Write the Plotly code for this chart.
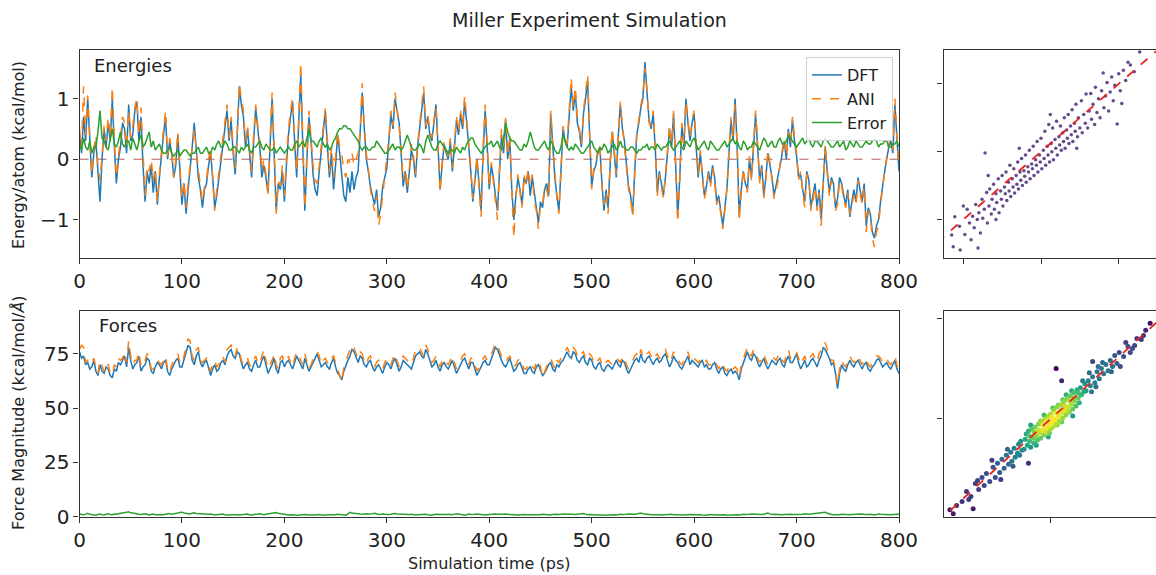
import numpy as np
import plotly.graph_objects as go

# Sampling interval of the trajectory (ps)
DT_PS = 2

# Per-atom energies along the trajectory (kcal/mol), one row per 40 ps
energy_dft = [
    0.4, 0.1, 0.7, 0.3, 1.0, 0.4, -0.3, 0.1, 0.3, -0.2, -0.7, 0.0, 0.5, 0.2, 0.6, 0.3, 1.0, 0.2, -0.4, 0.0,
    0.2, 0.6, 0.5, 0.1, 0.9, 0.3, 0.4, 0.8, 0.95, 0.3, 0.7, -0.1, -0.7, -0.2, -0.4, -0.1, -0.55, -0.2, -0.75, -0.3,
    0.1, 0.4, 0.7, 0.0, 0.3, 0.1, -0.3, -0.1, 0.4, -0.2, -0.75, -0.4, -0.9, -0.5, -0.2, 0.2, 0.6, 0.1, -0.3, -0.5,
    -0.8, -0.5, -0.4, -0.1, 0.1, -0.3, -0.8, -0.6, -0.3, 0.0, 0.3, 0.5, 0.8, 0.3, 0.65, 0.1, -0.25, 0.4, 1.2, 0.9,
    0.7, 0.2, 0.5, 0.1, -0.3, 0.3, 0.85, 0.5, 0.2, -0.3, -0.1, -0.3, -0.55, 0.2, 1.0, 0.1, -0.85, -0.4, -0.5, -0.2,
    -0.7, -0.1, 0.4, 0.7, 0.95, 0.3, -0.3, 0.6, 1.4, 0.2, -0.85, 0.0, 0.7, 0.3, -0.25, -0.5, -0.6, -0.2, 0.1, 0.5,
    0.8, 0.2, -0.3, 0.1, -0.5, -0.1, 0.4, 0.1, -0.3, -0.6, -0.7, -0.3, -0.55, -0.2, -0.5, -0.3, -0.2, 0.4, 1.1, 0.5,
    0.0, -0.2, -0.45, -0.6, -0.75, -0.5, -0.95, -0.8, -0.45, -0.3, -0.15, 0.3, 0.75, 0.5, 1.0, 0.8, 0.6, 0.1, -0.45, -0.2,
    -0.55, -0.2, 0.15, 0.0, -0.3, 0.2, 0.55, 0.8, 1.1, 0.5, 0.7, 0.4, 0.3, 0.6, 0.9, 0.2, -0.5, -0.1, 0.25, 0.1,
    0.0, 0.3, -0.2, 0.2, 0.65, 0.4, 0.75, 0.5, 0.95, 0.6, 0.25, -0.2, -0.7, -0.3, 0.0, -0.4, -0.85, 0.1, 0.8, 0.2,
    -0.5, -0.1, -0.3, -0.6, -0.85, -0.2, 0.4, 0.1, 0.65, 0.0, 0.35, -0.5, -1.0, -0.6, -0.3, -0.5, -0.75, -0.3, -0.4, -0.2,
    -0.6, -0.3, -0.6, -0.8, -1.05, -0.7, -0.8, -0.5, -0.4, -0.6, 0.75, 0.2, -0.3, -0.6, -0.85, -0.2, 0.5, 0.3, 0.2, 0.7,
    1.2, 0.8, 1.1, 0.6, 0.45, 0.2, 0.75, 1.0, 1.3, 0.4, -0.45, -0.2, -0.1, 0.1, 0.2, -0.4, -0.85, -0.5, -0.8, -0.1,
    0.45, 0.1, -0.3, 0.4, 0.9, 0.5, 0.3, -0.1, -0.45, -0.6, -0.9, -0.2, 0.4, 0.6, 0.85, 1.0, 1.6, 1.1, 0.65, 0.5,
    0.75, 0.2, -0.55, -0.2, -0.4, -0.6, -0.3, 0.1, 0.5, 0.2, 0.75, -0.1, -0.95, -0.3, 0.55, 0.2, 1.0, 0.6, 0.3, 0.6,
    0.75, 0.2, -0.3, 0.1, -0.2, -0.6, -0.45, -0.2, -0.4, -0.1, -0.3, -0.7, -0.6, -0.9, -1.1, -0.8, -0.5, 0.1, 0.65, 0.3,
    1.0, 0.2, -0.95, -0.5, -0.2, -0.4, -0.5, 0.0, -0.3, 0.2, 0.75, 0.2, -0.35, -0.1, -0.6, -0.3, 0.1, -0.1, -0.3, -0.6,
    -0.45, -0.3, -0.1, 0.1, 0.3, 0.0, 0.5, 0.2, 0.65, 0.3, 0.05, -0.3, -0.25, -0.5, -0.7, -0.2, -0.35, -0.8, -0.6, -0.4,
    -0.8, -0.5, -1.0, -0.4, 0.2, -0.2, -0.55, -0.3, -0.4, -0.8, -0.65, -0.3, -0.4, -0.6, -0.75, -0.5, -0.95, -0.7, -0.5, -0.7,
    -0.3, -0.5, -0.7, -0.4, -1.1, -0.8, -0.9, -1.2, -1.3, -1.1, -1.0, -0.7, -0.4, -0.2, 0.0, 0.2, 0.3, 0.1, 0.9, 0.3, -0.2,
]
energy_ani = [
    0.5, 0.2, 1.2, 0.4, 1.05, 0.5, -0.25, 0.15, 0.4, -0.1, -0.35, 0.05, 0.55, 0.3, 0.7, 0.35, 1.2, 0.3, -0.3, 0.05,
    0.35, 0.7, 0.6, 0.2, 0.8, 0.35, 0.55, 0.85, 1.0, 0.4, 0.85, 0.0, -0.6, -0.1, -0.2, 0.0, -0.35, -0.15, -0.7, -0.25,
    0.2, 0.5, 0.8, 0.05, 0.35, 0.15, -0.3, 0.0, 0.45, -0.1, -0.65, -0.35, -0.8, -0.4, -0.1, 0.3, 0.5, 0.15, -0.2, -0.45,
    -0.7, -0.45, -0.35, 0.0, 0.2, -0.25, -0.85, -0.5, -0.2, 0.1, 0.4, 0.6, 0.9, 0.35, 0.7, 0.2, -0.15, 0.45, 1.25, 1.0,
    0.8, 0.3, 0.55, 0.15, -0.2, 0.4, 0.9, 0.55, 0.3, -0.2, 0.0, -0.25, -0.6, 0.3, 1.1, 0.2, -0.9, -0.35, -0.45, -0.1,
    -0.6, 0.0, 0.5, 0.8, 1.0, 0.35, -0.2, 0.7, 1.6, 0.3, -0.8, 0.1, 0.8, 0.35, -0.1, -0.35, -0.4, -0.1, 0.2, 0.55,
    0.85, 0.3, -0.2, 0.2, -0.3, 0.05, 0.45, 0.2, 0.1, -0.2, -0.3, 0.0, -0.05, 0.1, -0.1, 0.0, 0.1, 0.5, 1.25, 0.55,
    0.1, -0.15, -0.5, -0.7, -0.85, -0.6, -1.1, -0.9, -0.6, -0.35, -0.05, 0.35, 0.8, 0.55, 1.1, 0.85, 0.55, 0.15, -0.35, -0.15,
    -0.5, -0.15, 0.25, 0.05, -0.25, 0.25, 0.6, 0.85, 1.2, 0.55, 0.75, 0.45, 0.35, 0.65, 0.85, 0.25, -0.55, -0.05, 0.3, 0.15,
    0.05, 0.35, -0.15, 0.25, 0.7, 0.45, 0.8, 0.55, 1.05, 0.65, 0.3, -0.15, -0.65, -0.25, 0.05, -0.45, -0.95, 0.15, 0.9, 0.25,
    -0.45, -0.05, -0.35, -0.7, -1.0, -0.15, 0.5, 0.15, 0.7, 0.05, 0.4, -0.55, -1.3, -0.65, -0.25, -0.55, -0.8, -0.25, -0.45, -0.15,
    -0.45, -0.25, -0.7, -0.85, -1.15, -0.75, -0.75, -0.45, -0.5, -0.65, 0.8, 0.25, -0.25, -0.65, -0.9, -0.15, 0.55, 0.35, 0.25, 0.8,
    1.35, 0.85, 1.2, 0.65, 0.5, 0.25, 0.8, 1.1, 1.4, 0.45, -0.5, -0.15, -0.05, 0.15, 0.25, -0.45, -0.75, -0.55, -0.9, -0.05,
    0.5, 0.15, -0.25, 0.45, 0.95, 0.55, 0.25, -0.15, -0.5, -0.65, -0.95, -0.15, 0.45, 0.65, 0.9, 1.05, 1.5, 1.15, 0.6, 0.55,
    0.8, 0.25, -0.6, -0.25, -0.45, -0.65, -0.25, 0.15, 0.55, 0.25, 0.8, -0.15, -1.05, -0.35, 0.6, 0.25, 0.95, 0.65, 0.35, 0.65,
    0.8, 0.25, -0.25, 0.15, -0.3, -0.65, -0.5, -0.25, -0.45, -0.15, -0.35, -0.75, -0.65, -0.95, -1.15, -0.85, -0.45, 0.15, 0.7, 0.35,
    0.9, 0.25, -1.0, -0.55, -0.15, -0.45, -0.55, 0.05, -0.35, 0.25, 0.8, 0.25, -0.4, -0.15, -0.65, -0.35, 0.15, -0.05, -0.35, -0.65,
    -0.5, -0.35, -0.05, 0.15, 0.35, 0.05, 0.45, 0.25, 0.7, 0.35, 0.1, -0.35, -0.2, -0.55, -0.8, -0.25, -0.3, -0.85, -0.7, -0.45,
    -0.85, -0.55, -1.1, -0.45, 0.25, -0.25, -0.6, -0.35, -0.45, -0.85, -0.75, -0.35, -0.45, -0.65, -0.8, -0.55, -0.9, -0.75, -0.6, -0.75,
    -0.35, -0.55, -0.75, -0.45, -1.2, -0.85, -0.95, -1.3, -1.45, -1.2, -1.1, -0.75, -0.45, -0.25, 0.05, 0.25, 0.35, 0.15, 1.0, 0.35, -0.15,
]
energy_err = [
    0.25, 0.15, 0.35, 0.2, 0.15, 0.3, 0.1, 0.2, 0.2, 0.45, 0.8, 0.35, 0.3, 0.2, 0.15, 0.3, 0.5, 0.25, 0.2, 0.3,
    0.45, 0.25, 0.2, 0.3, 0.3, 0.15, 0.35, 0.25, 0.15, 0.3, 0.4, 0.2, 0.25, 0.35, 0.45, 0.2, 0.3, 0.15, 0.2, 0.25,
    0.15, 0.1, 0.1, 0.15, 0.2, 0.1, 0.05, 0.1, 0.15, 0.05, 0.1, 0.15, 0.15, 0.1, 0.05, 0.1, 0.1, 0.15, 0.2, 0.1,
    0.1, 0.15, 0.2, 0.1, 0.1, 0.2, 0.15, 0.25, 0.3, 0.2, 0.2, 0.3, 0.25, 0.15, 0.15, 0.2, 0.2, 0.15, 0.1, 0.2,
    0.15, 0.2, 0.25, 0.15, 0.1, 0.2, 0.2, 0.25, 0.3, 0.2, 0.15, 0.25, 0.2, 0.15, 0.15, 0.2, 0.1, 0.15, 0.2, 0.15,
    0.1, 0.15, 0.2, 0.15, 0.15, 0.25, 0.3, 0.2, 0.25, 0.3, 0.2, 0.35, 0.5, 0.3, 0.3, 0.25, 0.2, 0.3, 0.35, 0.25,
    0.2, 0.25, 0.15, 0.2, 0.3, 0.35, 0.45, 0.5, 0.5, 0.55, 0.55, 0.5, 0.5, 0.45, 0.4, 0.35, 0.3, 0.2, 0.15, 0.2,
    0.2, 0.15, 0.15, 0.2, 0.2, 0.3, 0.25, 0.2, 0.15, 0.1, 0.1, 0.15, 0.2, 0.25, 0.15, 0.2, 0.2, 0.15, 0.2, 0.3,
    0.4, 0.3, 0.2, 0.15, 0.15, 0.2, 0.25, 0.2, 0.1, 0.3, 0.4, 0.3, 0.2, 0.15, 0.15, 0.25, 0.3, 0.25, 0.2, 0.15,
    0.1, 0.15, 0.15, 0.1, 0.2, 0.15, 0.1, 0.2, 0.15, 0.25, 0.3, 0.35, 0.35, 0.25, 0.2, 0.15, 0.1, 0.15, 0.2, 0.25,
    0.25, 0.3, 0.2, 0.25, 0.3, 0.2, 0.15, 0.35, 0.6, 0.45, 0.35, 0.3, 0.3, 0.25, 0.2, 0.15, 0.15, 0.25, 0.2, 0.3,
    0.45, 0.3, 0.2, 0.15, 0.15, 0.2, 0.25, 0.3, 0.2, 0.15, 0.3, 0.25, 0.15, 0.1, 0.1, 0.2, 0.4, 0.3, 0.2, 0.15,
    0.2, 0.15, 0.25, 0.2, 0.15, 0.1, 0.1, 0.15, 0.2, 0.25, 0.3, 0.2, 0.15, 0.1, 0.2, 0.15, 0.25, 0.2, 0.1, 0.15,
    0.2, 0.25, 0.15, 0.2, 0.3, 0.2, 0.2, 0.15, 0.15, 0.2, 0.2, 0.15, 0.1, 0.15, 0.15, 0.2, 0.2, 0.25, 0.15, 0.2,
    0.2, 0.15, 0.25, 0.2, 0.15, 0.2, 0.2, 0.25, 0.3, 0.2, 0.15, 0.2, 0.25, 0.3, 0.2, 0.15, 0.3, 0.25, 0.2, 0.3,
    0.35, 0.25, 0.15, 0.2, 0.25, 0.3, 0.2, 0.15, 0.3, 0.25, 0.2, 0.15, 0.15, 0.2, 0.25, 0.3, 0.2, 0.25, 0.3, 0.35,
    0.25, 0.3, 0.2, 0.15, 0.3, 0.25, 0.15, 0.2, 0.2, 0.3, 0.25, 0.2, 0.15, 0.25, 0.35, 0.3, 0.2, 0.25, 0.3, 0.2,
    0.2, 0.3, 0.35, 0.25, 0.25, 0.3, 0.4, 0.35, 0.3, 0.25, 0.2, 0.25, 0.3, 0.35, 0.25, 0.3, 0.35, 0.25, 0.2, 0.3,
    0.3, 0.25, 0.2, 0.3, 0.35, 0.3, 0.25, 0.2, 0.2, 0.25, 0.3, 0.2, 0.25, 0.3, 0.15, 0.2, 0.3, 0.25, 0.2, 0.3,
    0.25, 0.2, 0.2, 0.25, 0.3, 0.25, 0.25, 0.3, 0.35, 0.3, 0.2, 0.25, 0.25, 0.3, 0.3, 0.2, 0.2, 0.25, 0.25, 0.3, 0.2,
]

# Force magnitudes along the trajectory (kcal/mol/A), one row per 40 ps
force_dft = [
    76, 73, 74, 70, 71, 68, 69, 72, 67, 65, 70, 67, 66, 69, 68, 65, 64, 68, 67, 71,
    70, 72, 74, 69, 78, 72, 68, 70, 71, 74, 67, 69, 70, 73, 72, 67, 66, 69, 71, 70,
    68, 71, 72, 67, 65, 68, 70, 72, 73, 69, 69, 72, 75, 79, 78, 72, 70, 74, 76, 71,
    69, 71, 72, 68, 65, 68, 70, 67, 68, 71, 72, 70, 74, 76, 77, 74, 73, 76, 75, 71,
    68, 70, 71, 68, 67, 70, 72, 69, 69, 72, 74, 70, 66, 68, 70, 73, 68, 66, 71, 72,
    69, 71, 72, 70, 68, 71, 74, 72, 70, 68, 73, 70, 67, 69, 71, 73, 75, 72, 69, 70,
    71, 69, 68, 71, 73, 69, 66, 65, 63, 67, 70, 72, 74, 77, 76, 73, 71, 74, 73, 70,
    69, 71, 72, 69, 67, 69, 70, 68, 66, 69, 71, 70, 68, 71, 73, 70, 67, 69, 72, 71,
    70, 69, 68, 71, 74, 75, 76, 74, 73, 77, 75, 72, 69, 70, 72, 69, 67, 70, 71, 69,
    68, 70, 72, 69, 66, 68, 70, 72, 73, 70, 68, 71, 71, 68, 65, 67, 69, 71, 72, 70,
    70, 73, 75, 78, 77, 74, 72, 70, 69, 71, 73, 70, 67, 68, 70, 71, 68, 66, 66, 68,
    69, 67, 66, 69, 70, 67, 65, 66, 68, 70, 71, 68, 67, 70, 69, 71, 72, 74, 76, 74,
    73, 76, 75, 72, 71, 73, 74, 71, 70, 73, 72, 69, 68, 70, 71, 68, 67, 69, 70, 69,
    68, 70, 72, 70, 69, 72, 71, 68, 66, 68, 70, 72, 73, 71, 75, 72, 71, 73, 74, 72,
    70, 72, 73, 71, 72, 74, 75, 72, 69, 71, 74, 72, 71, 69, 68, 70, 72, 74, 70, 72,
    71, 70, 69, 71, 72, 69, 70, 68, 68, 70, 71, 68, 66, 68, 69, 66, 65, 67, 68, 66,
    67, 66, 63, 68, 71, 74, 76, 73, 72, 75, 74, 71, 69, 71, 73, 70, 68, 70, 72, 71,
    70, 72, 73, 70, 69, 72, 74, 71, 71, 73, 75, 71, 68, 70, 72, 69, 70, 72, 73, 71,
    69, 72, 74, 78, 77, 75, 73, 70, 71, 66, 59, 66, 70, 68, 67, 70, 72, 70, 69, 71,
    72, 70, 68, 70, 71, 68, 67, 69, 70, 72, 73, 71, 69, 70, 71, 69, 68, 70, 72, 68, 66,
]
force_ani = [
    77, 79, 78, 71, 72, 70, 71, 73, 69, 66, 72, 69, 67, 71, 70, 66, 65, 70, 69, 73,
    72, 73, 76, 71, 81, 74, 70, 72, 72, 76, 69, 70, 72, 75, 74, 68, 68, 71, 72, 71,
    70, 72, 74, 68, 66, 70, 72, 74, 75, 71, 70, 74, 79, 82, 81, 74, 72, 77, 78, 72,
    71, 72, 73, 70, 67, 70, 72, 69, 70, 73, 74, 71, 77, 78, 79, 76, 74, 78, 77, 72,
    70, 71, 73, 70, 69, 72, 74, 71, 70, 74, 77, 72, 68, 70, 72, 75, 70, 68, 73, 74,
    71, 72, 74, 71, 69, 73, 76, 74, 72, 70, 75, 72, 68, 70, 73, 75, 76, 74, 70, 72,
    73, 71, 70, 73, 74, 71, 68, 66, 62, 69, 72, 75, 77, 79, 78, 75, 73, 76, 75, 72,
    70, 73, 74, 71, 69, 71, 72, 70, 68, 71, 73, 72, 70, 73, 75, 72, 69, 71, 74, 73,
    72, 71, 70, 73, 77, 78, 78, 76, 74, 79, 77, 74, 71, 72, 74, 71, 69, 72, 73, 71,
    70, 72, 74, 71, 68, 70, 72, 74, 75, 72, 70, 73, 73, 70, 67, 69, 71, 73, 74, 72,
    72, 75, 78, 80, 79, 76, 74, 72, 71, 73, 74, 72, 69, 70, 72, 73, 70, 68, 68, 70,
    71, 69, 68, 71, 72, 69, 64, 67, 70, 72, 73, 70, 68, 72, 71, 73, 74, 76, 78, 76,
    75, 78, 77, 74, 73, 75, 76, 73, 72, 75, 74, 71, 70, 72, 73, 70, 69, 71, 72, 71,
    70, 72, 73, 72, 71, 74, 73, 70, 68, 70, 72, 74, 75, 73, 77, 74, 73, 75, 76, 74,
    72, 74, 75, 73, 74, 76, 77, 74, 71, 73, 76, 74, 73, 71, 70, 72, 74, 76, 72, 74,
    73, 72, 71, 72, 73, 71, 72, 70, 70, 71, 72, 70, 68, 70, 71, 68, 67, 69, 70, 68,
    69, 68, 64, 70, 73, 76, 78, 75, 74, 77, 76, 73, 71, 73, 75, 72, 70, 72, 73, 73,
    72, 74, 75, 72, 71, 74, 77, 73, 73, 75, 76, 73, 70, 72, 74, 71, 72, 74, 75, 73,
    71, 75, 77, 80, 80, 77, 75, 72, 72, 68, 61, 68, 72, 70, 69, 72, 74, 72, 71, 73,
    74, 72, 70, 72, 73, 70, 69, 71, 72, 74, 74, 73, 71, 72, 73, 71, 70, 72, 74, 70, 67,
]
force_err = [
    1.2, 0.9, 0.8, 1.1, 1.5, 1.0, 0.9, 0.7, 0.6, 0.9, 1.1, 0.8, 0.7, 1.0, 1.3, 0.9, 0.8, 1.1, 1.0, 1.3,
    1.4, 1.6, 1.8, 2.0, 2.2, 1.7, 1.6, 1.3, 1.2, 1.0, 0.9, 1.1, 1.3, 1.0, 0.7, 0.9, 1.1, 0.8, 0.8, 0.6,
    0.6, 0.8, 1.0, 1.2, 1.4, 1.0, 1.1, 1.4, 1.6, 1.9, 2.0, 1.6, 1.5, 1.3, 1.2, 1.5, 1.7, 1.4, 1.3, 1.1,
    1.0, 0.9, 0.8, 1.0, 1.2, 0.9, 0.7, 0.8, 0.9, 1.0, 1.1, 0.8, 0.6, 0.7, 0.8, 0.9, 1.0, 0.8, 0.7, 0.8,
    0.9, 1.0, 1.1, 0.8, 0.6, 0.9, 1.0, 1.2, 1.3, 1.0, 0.8, 1.0, 1.2, 1.4, 1.5, 1.7, 1.8, 1.5, 1.2, 1.1,
    1.0, 0.8, 0.7, 0.8, 0.9, 0.7, 0.6, 0.7, 0.8, 1.0, 1.1, 0.9, 0.7, 0.6, 0.5, 0.7, 0.9, 0.8, 0.8, 0.7,
    0.6, 0.8, 0.9, 0.8, 0.7, 0.9, 1.0, 0.9, 0.8, 0.7, 0.6, 1.2, 1.9, 1.6, 1.4, 1.3, 1.2, 1.1, 1.0, 1.2,
    1.3, 1.2, 1.1, 1.3, 1.5, 1.2, 0.9, 1.0, 1.2, 1.0, 0.8, 0.9, 1.0, 1.2, 1.4, 1.2, 1.1, 1.0, 0.9, 0.8,
    0.8, 0.9, 1.0, 0.8, 0.7, 0.8, 0.9, 1.0, 1.2, 1.0, 0.8, 0.7, 0.6, 0.9, 1.1, 1.0, 0.9, 0.8, 0.7, 0.9,
    1.0, 0.9, 0.8, 1.1, 1.3, 1.1, 0.9, 0.7, 0.6, 0.8, 1.1, 0.9, 0.8, 1.0, 1.2, 1.0, 0.9, 0.8, 0.7, 0.8,
    0.9, 1.0, 1.2, 1.1, 1.0, 0.9, 0.8, 1.0, 1.1, 0.9, 0.7, 0.8, 0.9, 0.7, 0.6, 0.8, 1.0, 0.9, 0.8, 0.8,
    0.7, 0.8, 0.9, 0.7, 0.6, 0.8, 1.0, 0.9, 0.8, 0.7, 0.7, 0.9, 1.1, 1.0, 0.9, 1.1, 1.3, 1.2, 1.0, 1.1,
    1.2, 1.0, 0.9, 1.0, 1.1, 1.3, 1.4, 1.1, 0.8, 0.9, 1.0, 0.8, 0.7, 0.8, 0.9, 0.7, 0.6, 0.7, 0.8, 0.9,
    0.9, 0.8, 0.7, 0.9, 1.0, 0.9, 0.8, 1.0, 1.1, 1.0, 0.9, 1.0, 1.2, 1.4, 1.6, 1.3, 1.1, 1.0, 0.9, 0.8,
    0.8, 0.9, 1.0, 0.8, 0.7, 0.8, 0.9, 1.1, 1.2, 1.0, 0.8, 0.9, 1.0, 0.8, 0.7, 0.8, 0.9, 1.0, 1.1, 0.9,
    0.8, 0.9, 1.0, 0.8, 0.7, 0.6, 0.6, 0.8, 0.9, 0.8, 0.8, 0.7, 0.7, 0.9, 1.0, 0.8, 0.6, 0.7, 0.8, 0.8,
    0.9, 0.8, 0.7, 0.9, 1.0, 0.9, 0.8, 1.0, 1.1, 1.0, 0.9, 0.8, 0.8, 0.9, 1.0, 1.2, 1.6, 1.2, 0.9, 1.0,
    1.1, 0.9, 0.8, 0.9, 1.0, 1.1, 1.2, 1.0, 0.9, 0.9, 1.0, 0.9, 0.8, 1.0, 1.3, 1.1, 1.0, 1.1, 1.2, 1.3,
    1.4, 1.6, 1.8, 2.0, 2.0, 1.5, 1.1, 0.9, 0.8, 0.7, 0.7, 0.8, 1.0, 0.9, 0.9, 0.8, 0.8, 0.9, 1.0, 0.9,
    0.9, 1.0, 1.1, 0.9, 0.8, 0.9, 1.0, 0.8, 0.7, 0.9, 1.2, 1.0, 0.9, 1.0, 1.0, 0.9, 0.8, 0.9, 0.9, 1.0, 1.0,
]

# Parity data: energies (DFT vs ANI)
parity_e_dft = [
    -1.15, -1.13, -1.04, -0.81, -1.11, -1.05, -0.98, -0.95, -0.92, -0.90,
    -0.88, -0.86, -0.84, -0.82, -0.80, -0.78, -0.76, -0.75, -0.73, -0.72,
    -0.70, -0.69, -0.67, -0.66, -0.64, -0.63, -0.61, -0.60, -0.58, -0.57,
    -0.55, -0.54, -0.52, -0.51, -0.50, -0.49, -0.47, -0.46, -0.45, -0.44,
    -0.42, -0.41, -0.40, -0.39, -0.37, -0.36, -0.35, -0.34, -0.32, -0.31,
    -0.30, -0.29, -0.27, -0.26, -0.25, -0.24, -0.22, -0.21, -0.20, -0.19,
    -0.17, -0.16, -0.15, -0.14, -0.12, -0.11, -0.10, -0.09, -0.07, -0.06,
    -0.05, -0.04, -0.02, -0.01, 0.00, 0.01, 0.03, 0.04, 0.05, 0.06,
    0.08, 0.09, 0.10, 0.11, 0.13, 0.14, 0.15, 0.16, 0.18, 0.19,
    0.20, 0.21, 0.23, 0.24, 0.25, 0.26, 0.28, 0.29, 0.30, 0.31,
    0.33, 0.34, 0.35, 0.36, 0.38, 0.39, 0.40, 0.41, 0.43, 0.44,
    0.45, 0.47, 0.48, 0.50, 0.52, 0.53, 0.55, 0.57, 0.58, 0.60,
    0.62, 0.64, 0.65, 0.67, 0.69, 0.70, 0.72, 0.74, 0.76, 0.78,
    0.80, 0.81, 0.83, 0.85, 0.87, 0.89, 0.91, 0.93, 0.95, 0.98,
    1.00, 1.02, 1.04, 1.06, 1.09, 1.12, 1.15, 1.20, 1.27, -1.00,
    -0.68, -0.28, 0.12, 0.46, -0.58,
]
parity_e_ani = [
    -1.23, -1.40, -1.45, -1.42, -0.96, -1.10, -1.22, -0.85, -1.05, -1.30,
    -0.95, -1.12, -0.78, -1.00, -0.90, -1.20, -0.70, -0.98, -0.85, -0.02,
    -0.60, -1.05, -0.80, -0.55, -0.92, -0.70, -0.48, -0.85, -0.62, -0.75,
    -0.40, -0.90, -0.58, -0.70, -0.35, -0.80, -0.52, -0.62, -0.30, -0.72,
    -0.45, -0.58, -0.20, -0.66, -0.40, -0.52, -0.25, -0.61, -0.35, -0.48,
    -0.15, -0.55, -0.30, -0.42, -0.10, -0.50, -0.28, -0.36, -0.05, -0.45,
    -0.22, -0.30, 0.02, -0.40, -0.18, -0.25, 0.08, -0.35, -0.12, -0.20,
    0.15, -0.30, -0.05, -0.15, 0.20, -0.25, 0.02, -0.10, 0.30, -0.20,
    0.08, -0.05, 0.40, -0.15, 0.12, 0.00, 0.35, -0.12, 0.18, 0.05,
    0.45, -0.05, 0.22, 0.10, 0.38, 0.02, 0.28, 0.15, 0.50, 0.05,
    0.32, 0.20, 0.55, 0.12, 0.38, 0.25, 0.62, 0.15, 0.42, 0.30,
    0.70, 0.22, 0.50, 0.35, 0.75, 0.28, 0.55, 0.42, 0.85, 0.35,
    0.60, 0.86, 0.48, 0.70, 0.40, 0.95, 0.58, 0.78, 0.50, 0.90,
    1.16, 0.65, 0.82, 1.02, 0.60, 0.88, 1.10, 0.75, 0.98, 0.41,
    1.15, 0.90, 0.71, 1.20, 1.05, 1.32, 1.28, 1.18, 1.47, -0.80,
    -0.35, 0.05, 0.55, 0.05, -1.00,
]

# Parity data: force components (DFT vs ANI)
parity_f_dft = [
    -24, -22, -21, -20, -19, -18, -17, -16, -15, -14, -13, -12, -11, -10, -9, -8, -7, -6,
    -5, -4, -3, -2, -1, 0, 0, 1, 2, 3, 4, 5, 6, 7, 8, 9, 10, 11, 12, 13, 14, 15, 16, 17,
    18, 19, 20, 21, 22, 23, 24, 25, 26, 27, 28, 30,
    -23, -19, -15, -11, -7, -3, 1, 5, 9, 13, 17, 21, 25, -13, -9, -5, -1, 3, 7, 11,
    15, 19, 23, -6, 2, 10, -18, 14, -2, 6,
    -58, -55, -52, -50, -48, -46, -44, -42, -40, -38, -36, -35, -33, -32, -30, -29,
    -28, -27, -26, -34, -39, -45, -53, 32, 34, 36, 38, 40, 42, 44, 46, 48, 50, 52,
    54, 56, 58, 60, 62, 35, 41, 47, 55, 63, 31, 37, 43, 29,
    -91, -85, -80, -76, -72, -68, -65, -62, -88, -74, -66, -60, 66, 70, 74, 78, 82,
    86, 90, 68, 76, 84, 72,
    5, 10, 38, -70, -20, 20,
]
parity_f_ani = [
    -30, -15, -26, -12, -22, -28, -10, -19, -24, -8, -17, -21, -5, -14, -19, -3, -11, -16,
    0, -9, -13, 3, -6, -10, 5, -3, -8, 9, 0, -5, 12, 3, -2, 14, 6, 1, 17, 9, 4, 20, 12, 7,
    23, 15, 10, 26, 18, 13, 29, 21, 16, 31, 24, 27,
    -20, -17, -13, -11, -6, -2, 2, 6, 8, 13, 18, 20, 26, -26, -2, -12, -14, -1, 14, 19,
    8, 28, 21, 4, 11, -3, -6, 24, -18, -6,
    -54, -62, -48, -58, -44, -53, -40, -49, -36, -45, -33, -42, -29, -38, -34, -25,
    -36, -22, -31, -47, -30, -60, -41, 28, 38, 33, 42, 36, 47, 40, 50, 45, 54, 48,
    58, 52, 63, 55, 66, 46, 32, 56, 47, 52, 35, 27, 52, 38,
    -90, -86, -82, -72, -77, -64, -70, -58, -94, -80, -61, -66, 62, 72, 70, 80, 79,
    88, 95, 76, 73, 83, 66,
    50, 38, 57, -89, -44, 3,
]

FONT = "DejaVu Sans"
TEXT_COLOR = "#222222"
C_DFT, C_ANI, C_ERR = "#1f77b4", "#ff7f0e", "#2ca02c"
AX_COLOR = "#333333"


def times(series):
    return np.arange(len(series)) * DT_PS


# Density estimate for colouring the force parity points
fp = np.column_stack([parity_f_dft, parity_f_ani]).astype(float)
d2 = ((fp[:, None, :] - fp[None, :, :]) ** 2).sum(-1)
f_density = np.exp(-d2 / (2 * 9.0 ** 2)).sum(1)
order = np.argsort(f_density)

fig = go.Figure()

# Energies time series
fig.add_trace(go.Scatter(x=times(energy_dft), y=energy_dft, mode="lines", name="DFT",
                         line=dict(color=C_DFT, width=1.5), xaxis="x", yaxis="y"))
fig.add_trace(go.Scatter(x=times(energy_ani), y=energy_ani, mode="lines", name="ANI",
                         line=dict(color=C_ANI, width=1.5, dash="dash"), xaxis="x", yaxis="y"))
fig.add_trace(go.Scatter(x=times(energy_err), y=energy_err, mode="lines", name="Error",
                         line=dict(color=C_ERR, width=1.5), xaxis="x", yaxis="y"))

# Forces time series
fig.add_trace(go.Scatter(x=times(force_dft), y=force_dft, mode="lines", showlegend=False,
                         line=dict(color=C_DFT, width=1.5), xaxis="x3", yaxis="y3"))
fig.add_trace(go.Scatter(x=times(force_ani), y=force_ani, mode="lines", showlegend=False,
                         line=dict(color=C_ANI, width=1.5, dash="dash"), xaxis="x3", yaxis="y3"))
fig.add_trace(go.Scatter(x=times(force_err), y=force_err, mode="lines", showlegend=False,
                         line=dict(color=C_ERR, width=1.5), xaxis="x3", yaxis="y3"))

# Energy parity plot
fig.add_trace(go.Scatter(x=parity_e_dft, y=parity_e_ani, mode="markers", showlegend=False,
                         marker=dict(color="#4a2c78", size=3.5, opacity=0.85),
                         xaxis="x2", yaxis="y2"))
fig.add_trace(go.Scatter(x=[-5, 5], y=[-5, 5], mode="lines", showlegend=False,
                         line=dict(color="#e8231f", width=1.8, dash="dash"),
                         xaxis="x2", yaxis="y2"))

# Force parity plot coloured by point density
fig.add_trace(go.Scatter(x=fp[order, 0], y=fp[order, 1], mode="markers", showlegend=False,
                         marker=dict(color=f_density[order], colorscale="Viridis", size=5),
                         xaxis="x4", yaxis="y4"))
fig.add_trace(go.Scatter(x=[-500, 500], y=[-500, 500], mode="lines", showlegend=False,
                         line=dict(color="#e8231f", width=1.8, dash="dash"),
                         xaxis="x4", yaxis="y4"))

W, H = 1156, 575


def px_x(p):
    return p / W


def px_y(p):
    return 1 - p / H


left_dom = [px_x(79.5), px_x(899)]
right_dom = [px_x(943.5), 1.0]
top_dom = [px_y(257.5), px_y(50)]
bot_dom = [px_y(516.5), px_y(310.5)]

base = dict(showline=True, linecolor=AX_COLOR, linewidth=1.2, ticks="outside",
            ticklen=5, tickwidth=1.2, tickcolor=AX_COLOR, showgrid=False,
            zeroline=False, automargin=False,
            tickfont=dict(family=FONT, size=20, color=TEXT_COLOR))

time_ticks = list(range(0, 801, 100))


def label(text, x, y, size, angle=0, xanchor="center"):
    return dict(text=text, x=px_x(x), y=px_y(y), xref="paper", yref="paper",
                xanchor=xanchor, yanchor="middle", textangle=angle, showarrow=False,
                font=dict(family=FONT, size=size, color=TEXT_COLOR))


fig.update_layout(
    width=W, height=H,
    margin=dict(l=0, r=0, t=0, b=0),
    paper_bgcolor="white", plot_bgcolor="white",
    font=dict(family=FONT, color=TEXT_COLOR),
    xaxis=dict(base, domain=left_dom, range=[0, 800], tickvals=time_ticks,
               mirror=True, anchor="y"),
    yaxis=dict(base, domain=top_dom, range=[-1.62, 1.80], tickvals=[-1, 0, 1],
               mirror=True, anchor="x"),
    xaxis3=dict(base, domain=left_dom, range=[0, 800], tickvals=time_ticks,
                mirror=True, anchor="y3"),
    yaxis3=dict(base, domain=bot_dom, range=[0, 95], tickvals=[0, 25, 50, 75],
                mirror=True, anchor="x3"),
    xaxis2=dict(base, domain=right_dom, range=[-1.255, 1.48], tickvals=[-1, 0, 1],
                showticklabels=False, mirror=True, anchor="y2"),
    yaxis2=dict(base, domain=top_dom, range=[-1.56, 1.50], tickvals=[-1, 0, 1],
                showticklabels=False, mirror=False, anchor="x2"),
    xaxis4=dict(base, domain=right_dom, range=[-96.8, 95.3], tickvals=[-100, 0, 100],
                showticklabels=False, mirror=True, anchor="y4"),
    yaxis4=dict(base, domain=bot_dom, range=[-96.8, 107.7], tickvals=[-100, 0, 100],
                showticklabels=False, mirror=False, anchor="x4"),
    legend=dict(x=px_x(893), y=px_y(57), xanchor="right", yanchor="top",
                bgcolor="rgba(255,255,255,0.85)", bordercolor="#d0d0d0", borderwidth=1,
                font=dict(family=FONT, size=16, color=TEXT_COLOR)),
    shapes=[
        dict(type="line", xref="x", yref="y", x0=0, x1=800, y0=0, y1=0, layer="below",
             line=dict(color="#a0302a", width=0.8, dash="dash")),
    ],
    annotations=[
        label("Miller Experiment Simulation", 589, 20, 19),
        label("Energies", 92, 65, 18, xanchor="left"),
        label("Forces", 97, 325, 18, xanchor="left"),
        label("Energy/atom (kcal/mol)", 18, 155, 16, angle=-90),
        label("Force Magnitude (kcal/mol/<i>Å</i>)", 18, 413, 16, angle=-90),
        label("Simulation time (ps)", 489, 563, 16),
    ],
)

fig.write_html("out.html")
